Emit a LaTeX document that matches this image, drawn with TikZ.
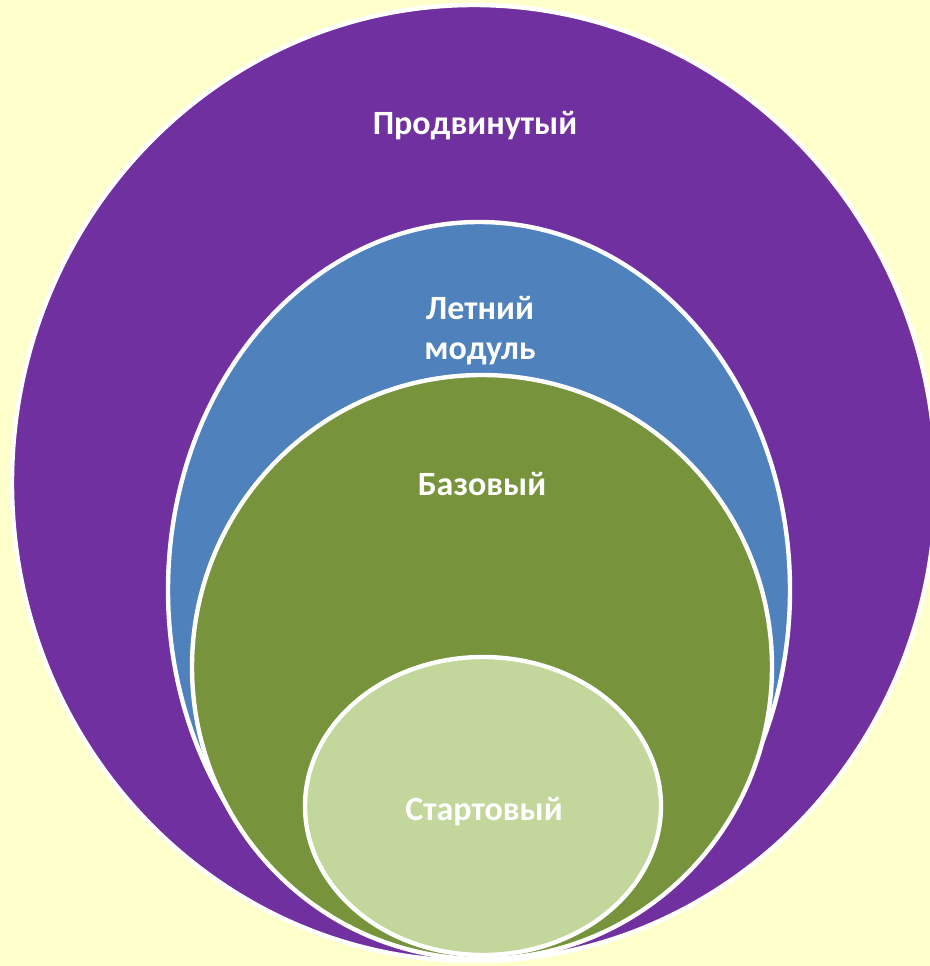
\documentclass[tikz,border=0pt]{standalone}
\usepackage{fontspec}
\setmainfont{Carlito}
\usetikzlibrary{positioning}
\definecolor{bgyellow}{HTML}{FFFFCC}
\definecolor{advpurple}{HTML}{7030A0}
\definecolor{summerblue}{HTML}{4F81BD}
\definecolor{basegreen}{HTML}{77933C}
\definecolor{startgreen}{HTML}{C3D69B}

\begin{document}
\begin{tikzpicture}[x=0.75pt,y=-0.75pt,
  ring/.style={draw=white,line width=3.3pt},
  lbl/.style={text=white,font=\bfseries\fontsize{25.5}{30}\selectfont,align=center}]
  \useasboundingbox (0,0) rectangle (930,966);
  \fill[bgyellow] (0,0) rectangle (930,966);
  \begin{scope}
    \clip (0,0) rectangle (930,966);
    % nested levels, outer to inner
    \draw[ring,fill=advpurple]  (474,483) ellipse [x radius=462, y radius=478];
    \draw[ring,fill=summerblue] (479,590) ellipse [x radius=311, y radius=368];
    \draw[ring,fill=basegreen]  (482,667) ellipse [x radius=290, y radius=292];
    \draw[ring,fill=startgreen] (483,806) ellipse [x radius=178, y radius=149];
  \end{scope}
  \node[lbl,anchor=base] (adv)    at (475,135) {Продвинутый};
  \node[lbl]             (summer) at (480,331) {Летний\\модуль};
  \node[lbl,anchor=base] (base)   at (482,495) {Базовый};
  \node[lbl,anchor=base] (start)  at (484,820) {Стартовый};
\end{tikzpicture}
\end{document}
